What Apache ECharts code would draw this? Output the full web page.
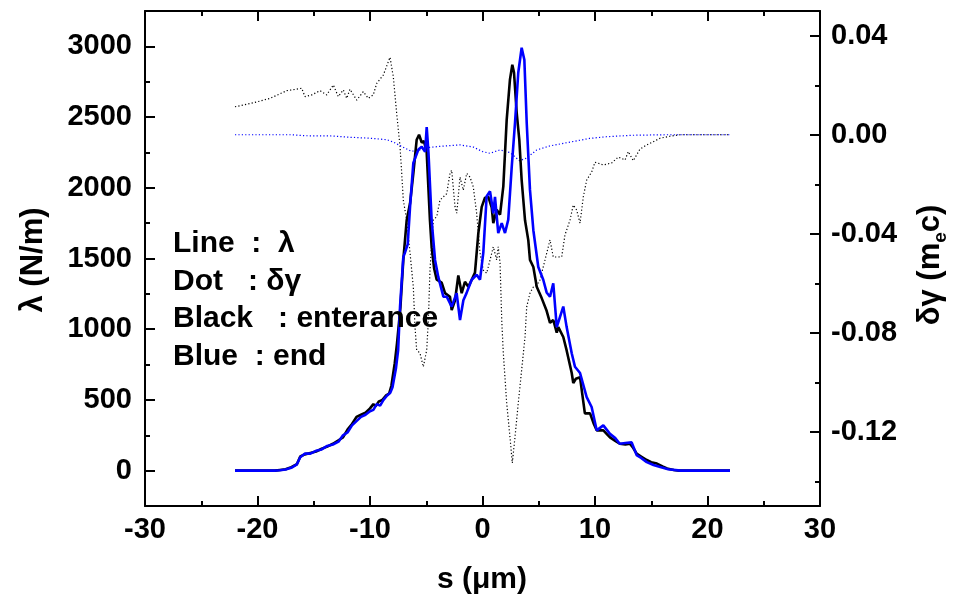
<!DOCTYPE html>
<html>
<head>
<meta charset="utf-8">
<script src="https://cdn.jsdelivr.net/npm/echarts@6/dist/echarts.min.js"></script>
<style>
  html, body { margin: 0; padding: 0; background: #fff; }
  #chart { width: 966px; height: 603px; }
</style>
</head>
<body>
<div id="chart"></div>
<script>
// Line charge density λ (N/m) versus position s (μm), at the entrance (black) and the end (blue)
const sBlackLam = [-22,-20,-18.5,-18,-17.5,-17,-16.5,-16.2,-15.8,-15.3,-14.8,-14.3,-13.8,-13.3,-12.8,-12.4,-12.0,-11.6,-11.2,-10.8,-10.4,-10.0,-9.7,-9.5,-9.2,-8.9,-8.6,-8.3,-8.1,-7.8,-7.6,-7.3,-7.04,-6.74,-6.44,-6.15,-5.85,-5.64,-5.4,-5.2,-4.96,-4.67,-4.52,-4.3,-4.07,-3.63,-3.33,-2.89,-2.74,-2.44,-2.15,-1.85,-1.56,-1.26,-0.96,-0.67,-0.37,-0.07,0.22,0.52,0.82,0.96,1.26,1.56,1.85,2.15,2.44,2.65,2.8,3.04,3.27,3.48,3.78,4.07,4.22,4.52,4.82,5.26,5.4,5.7,6.0,6.29,6.6,6.74,7.18,7.48,7.93,8.07,8.3,8.67,9.1,9.56,9.9,10.15,10.74,11.33,11.8,12.2,12.7,13.1,13.4,13.7,14.1,14.6,15.0,15.5,16.0,16.4,17.0,17.5,22];
const lamBlack = [0,0,0,5,10,25,45,100,115,125,135,155,170,190,215,235,290,330,380,395,410,440,470,455,490,500,530,545,600,760,900,1150,1490,1770,1890,2100,2340,2375,2320,2330,2250,1770,1580,1430,1350,1330,1255,1230,1135,1205,1380,1255,1335,1300,1350,1400,1680,1865,1930,1935,1860,1750,1845,1810,2010,2480,2765,2870,2815,2530,2340,2055,1770,1630,1490,1440,1300,1220,1230,1130,1045,1065,975,1015,945,850,690,620,650,660,405,405,330,285,285,235,210,190,185,190,160,120,100,75,60,50,30,15,5,0,0];

const sBlueLam = [-22,-20,-18.5,-18,-17.5,-17,-16.5,-16.2,-15.8,-15.3,-14.8,-14.3,-13.8,-13.3,-12.8,-12.4,-12.0,-11.6,-11.2,-10.8,-10.4,-10.0,-9.7,-9.4,-9.1,-8.8,-8.5,-8.2,-8.0,-7.7,-7.5,-7.33,-7.04,-6.9,-6.65,-6.44,-6.15,-5.7,-5.4,-5.1,-4.96,-4.8,-4.52,-4.22,-3.93,-3.48,-3.18,-2.74,-2.3,-2.0,-1.7,-1.42,-0.96,-0.52,-0.22,0.07,0.37,0.67,0.96,1.11,1.4,1.71,2.0,2.29,2.6,2.89,3.18,3.48,3.72,3.93,4.22,4.52,4.96,5.4,5.7,6.0,6.29,6.6,7.18,7.48,7.93,8.22,8.67,9.26,9.7,10.15,10.74,11.33,11.8,12.2,12.7,13.26,13.7,14.1,14.6,15.2,15.8,16.5,17.6,22];
const lamBlue = [0,0,0,3,8,20,45,95,120,120,140,150,175,185,205,250,270,320,350,380,395,420,430,470,460,500,530,550,590,720,850,1160,1510,1540,1600,1865,2175,2270,2290,2255,2430,2245,1770,1490,1370,1230,1230,1160,1255,1065,1205,1255,1350,1385,1350,1540,1940,1975,1820,1935,1680,1750,1680,1775,2150,2460,2815,2990,2905,2460,1985,1700,1440,1350,1260,1230,1325,1015,1160,1015,830,735,690,520,450,285,320,260,230,190,195,200,110,90,60,40,25,10,0,0];

// Energy change δγ (m_e c) versus s, entrance (black dots) and end (blue dots)
const sBlackDg = [-22,-20.37,-18.89,-17.4,-16.52,-16.07,-15.78,-15.18,-14.44,-13.85,-13.26,-12.82,-12.37,-12.07,-11.78,-11.18,-10.6,-10.15,-9.71,-9.4,-8.82,-8.22,-7.93,-7.63,-7.33,-7.18,-7.04,-6.74,-6.44,-6.15,-6.0,-5.85,-5.56,-5.26,-4.96,-4.81,-4.67,-4.37,-4.07,-3.78,-3.48,-3.18,-2.89,-2.74,-2.44,-2.29,-2.0,-1.71,-1.4,-1.11,-0.82,-0.52,-0.22,0.07,0.37,0.67,0.96,1.26,1.4,1.56,1.71,1.85,2.15,2.44,2.65,2.89,3.18,3.48,3.78,3.93,4.22,4.52,4.82,5.11,5.4,5.71,6.0,6.29,6.71,7.04,7.33,7.78,8.07,8.37,8.67,8.96,9.26,9.71,10.0,10.74,11.48,12.07,12.67,12.96,13.4,14.0,14.6,15.18,15.78,16.67,17.56,22];
const dgBlack = [0.0113,0.0129,0.0147,0.0178,0.0184,0.0188,0.0154,0.0161,0.0178,0.0161,0.0201,0.0154,0.0181,0.0147,0.0184,0.014,0.0174,0.0147,0.0161,0.0208,0.0241,0.0313,0.0235,0.0087,-0.0048,-0.0156,-0.0264,-0.0344,-0.0478,-0.0615,-0.0777,-0.087,-0.0882,-0.0938,-0.087,-0.0748,-0.0546,-0.0344,-0.0331,-0.0264,-0.0251,-0.0238,-0.0156,-0.0143,-0.0292,-0.0317,-0.0171,-0.0224,-0.0156,-0.0171,-0.0211,-0.0317,-0.0478,-0.0547,-0.0559,-0.0506,-0.0453,-0.0506,-0.0453,-0.0518,-0.0748,-0.0882,-0.1084,-0.1221,-0.1326,-0.1221,-0.1084,-0.095,-0.0817,-0.0695,-0.064,-0.0615,-0.0608,-0.0587,-0.0534,-0.0478,-0.0425,-0.0494,-0.0494,-0.0493,-0.0405,-0.0344,-0.0284,-0.0304,-0.0357,-0.0251,-0.0183,-0.015,-0.0111,-0.0122,-0.0114,-0.009,-0.0102,-0.0068,-0.0105,-0.0058,-0.0041,-0.0028,-0.0014,-0.0006,0,0];

const sBlueDg = [-22,-17,-15.8,-13.4,-11.9,-10.0,-8.5,-7.9,-7.2,-6.3,-5.6,-4.7,-3.8,-2.0,-0.8,0.0,0.67,1.56,2.44,3.3,3.93,4.8,6.0,7.5,9.5,11.0,13.4,16.3,22];
const dgBlue = [0,0,-0.0004,-0.0005,-0.001,-0.0014,-0.002,-0.003,-0.0047,-0.0067,-0.0062,-0.0051,-0.0047,-0.0041,-0.005,-0.0068,-0.0075,-0.0061,-0.0072,-0.0105,-0.0094,-0.0062,-0.0045,-0.0032,-0.0015,-0.0008,-0.0002,0,0];

// Axis tick values
const lamTicks = [0, 500, 1000, 1500, 2000, 2500, 3000];
const lamMinorTicks = [250, 750, 1250, 1750, 2250, 2750];
const dgTicks = [-0.12, -0.08, -0.04, 0, 0.04];
const dgMinorTicks = [-0.14, -0.10, -0.06, -0.02, 0.02];

const legendLines = ['Line  :  λ', 'Dot   : δγ', 'Black   : enterance', 'Blue  : end'];

const FONT = '"Liberation Sans", Arial, Helvetica, sans-serif';
const zip = (xs, ys) => xs.map((x, i) => [x, ys[i]]);

const chart = echarts.init(document.getElementById('chart'), null, { renderer: 'canvas' });

const tickLabel = { color: '#000', fontFamily: FONT, fontWeight: 'bold', fontSize: 29 };
const axisLine = { show: true, onZero: false, lineStyle: { color: '#000', width: 2 } };
const noLine = { show: false, onZero: false };

function xAxisDef(pos, showLabel) {
  return {
    type: 'value', position: pos, min: -30, max: 30, interval: 10,
    axisLine: axisLine,
    axisTick: { show: true, inside: true, length: 10, lineStyle: { color: '#000', width: 2 } },
    minorTick: { show: true, splitNumber: 2, length: 5, lineStyle: { color: '#000', width: 2 } },
    axisLabel: Object.assign({ show: showLabel, margin: 9, formatter: v => String(v) }, tickLabel),
    splitLine: { show: false }, minorSplitLine: { show: false }
  };
}

const option = {
  animation: false,
  backgroundColor: '#fff',
  grid: { left: 145, top: 11, width: 675, height: 495, show: false, containLabel: false },
  xAxis: [xAxisDef('bottom', true), xAxisDef('top', false)],
  yAxis: [
    {
      type: 'value', position: 'left', min: -250, max: 3250,
      axisLine: axisLine,
      axisTick: { show: true, inside: true, length: 10, customValues: lamTicks, lineStyle: { color: '#000', width: 2 } },
      axisLabel: Object.assign({ margin: 13, customValues: lamTicks, formatter: v => String(v) }, tickLabel),
      splitLine: { show: false }
    },
    {
      type: 'value', position: 'right', min: -0.15, max: 0.05,
      axisLine: axisLine,
      axisTick: { show: true, inside: true, length: 10, customValues: dgTicks, lineStyle: { color: '#000', width: 2 } },
      axisLabel: Object.assign({ margin: 11, customValues: dgTicks, formatter: v => v.toFixed(2) }, tickLabel),
      splitLine: { show: false }
    },
    {
      type: 'value', position: 'left', min: -250, max: 3250,
      axisLine: noLine,
      axisTick: { show: true, inside: true, length: 5, customValues: lamMinorTicks, lineStyle: { color: '#000', width: 2 } },
      axisLabel: { show: false },
      splitLine: { show: false }
    },
    {
      type: 'value', position: 'right', min: -0.15, max: 0.05,
      axisLine: noLine,
      axisTick: { show: true, inside: true, length: 5, customValues: dgMinorTicks, lineStyle: { color: '#000', width: 2 } },
      axisLabel: { show: false },
      splitLine: { show: false }
    }
  ],
  series: [
    {
      name: 'δγ entrance', type: 'line', xAxisIndex: 0, yAxisIndex: 1, showSymbol: false,
      data: zip(sBlackDg, dgBlack),
      lineStyle: { color: '#000', width: 1.2, type: [1.2, 2.2] }, z: 2
    },
    {
      name: 'δγ end', type: 'line', xAxisIndex: 0, yAxisIndex: 1, showSymbol: false,
      data: zip(sBlueDg, dgBlue),
      lineStyle: { color: '#0000ff', width: 1.2, type: [1.2, 2.2] }, z: 2
    },
    {
      name: 'λ entrance', type: 'line', xAxisIndex: 0, yAxisIndex: 0, showSymbol: false,
      data: zip(sBlackLam, lamBlack),
      lineStyle: { color: '#000', width: 2.6 }, z: 3
    },
    {
      name: 'λ end', type: 'line', xAxisIndex: 0, yAxisIndex: 0, showSymbol: false,
      data: zip(sBlueLam, lamBlue),
      lineStyle: { color: '#0000ff', width: 2.6 }, z: 4
    }
  ],
  graphic: [
    // legend text block inside the plot
    ...legendLines.map((t, i) => ({
      type: 'text', x: 173, y: 244 + i * 37.5, z: 10,
      style: { text: t, font: 'bold 30px ' + FONT, fill: '#000', align: 'left', verticalAlign: 'middle' }
    })),
    {
      type: 'text', x: 33, y: 260, rotation: Math.PI / 2, z: 10,
      style: { text: 'λ (N/m)', font: 'bold 31px ' + FONT, fill: '#000', align: 'center', verticalAlign: 'middle' }
    },
    {
      type: 'text', x: 930, y: 265, rotation: Math.PI / 2, z: 10,
      style: {
        text: '{n|δγ (m}{s|e}{n|c)}', align: 'center', verticalAlign: 'middle', fill: '#000',
        rich: {
          n: { font: 'bold 31px ' + FONT, fill: '#000', lineHeight: 40 },
          s: { font: 'bold 19px ' + FONT, fill: '#000', verticalAlign: 'bottom', lineHeight: 40 }
        }
      }
    },
    {
      type: 'text', x: 482, y: 580, z: 10,
      style: { text: 's (μm)', font: 'bold 30px ' + FONT, fill: '#000', align: 'center', verticalAlign: 'middle' }
    }
  ]
};

chart.setOption(option);
</script>
</body>
</html>
